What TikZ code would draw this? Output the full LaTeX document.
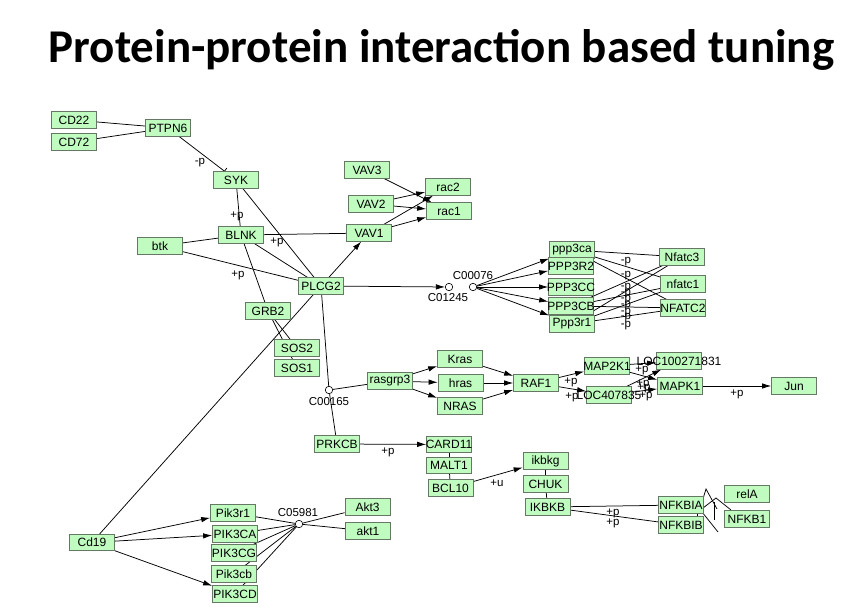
\documentclass[tikz,border=0pt]{standalone}
\usepackage{fontspec}
\setmainfont{Liberation Sans}
\newfontfamily\titlefont{Carlito}
\usetikzlibrary{arrows.meta,calc}
\definecolor{boxfill}{RGB}{192,252,192}
\definecolor{boxline}{RGB}{100,120,100}
\pgfdeclarelayer{edges}
\pgfsetlayers{edges,main}
\newcommand\gname[1]{\makebox[0pt]{#1}}

\begin{document}
\begin{tikzpicture}[x=1pt,y=-1pt,
  gene/.style={draw=boxline, fill=boxfill, line width=0.7pt,
    minimum width=45pt, minimum height=16.5pt, inner sep=0pt,
    font=\fontsize{12}{13}\selectfont},
  cpd/.style={circle, draw, fill=white, line width=0.6pt,
    minimum size=7.5pt, inner sep=0pt},
  lab/.style={font=\fontsize{11.5}{12}\selectfont, inner sep=0pt},
  link/.style={line width=0.75pt},
  act/.style={link, -{Latex[length=9pt,width=5.5pt]}},
  inh/.style={link, -{Bar[width=8pt]}}]

\useasboundingbox (0,0) rectangle (864,607);

% heading
\node[font=\titlefont\bfseries\fontsize{47}{50}\selectfont, anchor=base]
  (title) at (441.5,63) {Protein-protein interaction based tuning};

% B cell receptor proximal signalling
\node[gene] (CD22)   at (74,120)  {\gname{CD22}};
\node[gene] (CD72)   at (74,142)  {\gname{CD72}};
\node[gene] (PTPN6)  at (168,128) {\gname{PTPN6}};
\node[gene] (SYK)    at (236,180) {\gname{SYK}};
\node[gene] (BLNK)   at (241,235) {\gname{BLNK}};
\node[gene] (btk)    at (160,246) {\gname{btk}};
\node[gene] (VAV3)   at (367,170) {\gname{VAV3}};
\node[gene] (VAV2)   at (371,204) {\gname{VAV2}};
\node[gene] (VAV1)   at (369,233) {\gname{VAV1}};
\node[gene] (rac2)   at (448,187) {\gname{rac2}};
\node[gene] (rac1)   at (449,211) {\gname{rac1}};
\node[gene] (PLCG2)  at (321,286) {\gname{PLCG2}};
\node[gene] (GRB2)   at (268,311) {\gname{GRB2}};
\node[gene] (SOS2)   at (297,348) {\gname{SOS2}};
\node[gene] (SOS1)   at (297,368) {\gname{SOS1}};

% calcineurin / NFAT branch
\node[cpd] (C01245) at (449,287) {};
\node[lab] (tC01245) at (448,298) {C01245};
\node[cpd] (C00076) at (473,287) {};
\node[lab] (tC00076) at (473,276) {C00076};
\node[gene] (ppp3ca) at (572,250) {\gname{ppp3ca}};
\node[gene] (PPP3R2) at (571,266) {\gname{PPP3R2}};
\node[gene] (PPP3CC) at (571,287) {\gname{PPP3CC}};
\node[gene] (PPP3CB) at (571,306) {\gname{PPP3CB}};
\node[gene] (Ppp3r1) at (572,324) {\gname{Ppp3r1}};
\node[gene] (Nfatc3) at (682,257) {\gname{Nfatc3}};
\node[gene] (nfatc1) at (683,284) {\gname{nfatc1}};
\node[gene] (NFATC2) at (683,308) {\gname{NFATC2}};

% Ras / MAPK branch
\node[cpd] (C00165) at (329,390) {};
\node[lab] (tC00165) at (329,402) {C00165};
\node[gene] (rasgrp3) at (390,381) {\gname{rasgrp3}};
\node[gene] (Kras)   at (460,359) {\gname{Kras}};
\node[gene] (hras)   at (460.5,383) {\gname{hras}};
\node[gene] (NRAS)   at (460,406) {\gname{NRAS}};
\node[gene] (RAF1)   at (536,383) {\gname{RAF1}};
\node[gene] (MAP2K1) at (607,366) {\gname{MAP2K1}};
\node[gene] (LOCa)   at (679,361) {\gname{LOC100271831}};
\node[gene] (LOCb)   at (609,395) {\gname{LOC407835}};
\node[gene] (MAPK1)  at (680,386) {\gname{MAPK1}};
\node[gene] (Jun)    at (794,386) {\gname{Jun}};

% PKC / NF-kB branch
\node[gene] (PRKCB)  at (337,444) {\gname{PRKCB}};
\node[gene] (CARD11) at (449,444.5) {\gname{CARD11}};
\node[gene] (MALT1)  at (449,465.5) {\gname{MALT1}};
\node[gene] (BCL10)  at (450.5,488) {\gname{BCL10}};
\node[gene] (ikbkg)  at (545.5,461) {\gname{ikbkg}};
\node[gene] (CHUK)   at (545.5,484) {\gname{CHUK}};
\node[gene] (IKBKB)  at (547.5,507) {\gname{IKBKB}};
\node[gene] (NFKBIA) at (681,505) {\gname{NFKBIA}};
\node[gene] (NFKBIB) at (681,525) {\gname{NFKBIB}};
\node[gene] (relA)   at (747,494) {\gname{relA}};
\node[gene] (NFKB1)  at (747,519) {\gname{NFKB1}};

% PI3K / Akt branch
\node[gene] (Cd19)   at (92,542.5) {\gname{Cd19}};
\node[gene] (Pik3r1) at (233,513) {\gname{Pik3r1}};
\node[gene] (PIK3CA) at (235,534) {\gname{PIK3CA}};
\node[gene] (PIK3CG) at (234,553) {\gname{PIK3CG}};
\node[gene] (Pik3cb) at (234,574) {\gname{Pik3cb}};
\node[gene] (PIK3CD) at (235,594) {\gname{PIK3CD}};
\node[cpd] (C05981) at (299,524) {};
\node[lab] (tC05981) at (298,513) {C05981};
\node[gene] (Akt3)   at (367.5,507) {\gname{Akt3}};
\node[gene] (akt1)   at (368,531) {\gname{akt1}};

% bent IkB / NF-kB links
\coordinate (zA1) at (702,502);
\coordinate (zA2) at (706,489);
\coordinate (zA3) at (717,509);
\coordinate (zB1) at (703,508);
\coordinate (zB2) at (716,498);
\coordinate (zB3) at (731,510);
\coordinate (zC1) at (702,512);
\coordinate (zC2) at (718,532);
\coordinate (zD1) at (714,502);
\coordinate (zD2) at (714,520);

% edge labels
\node[lab] (l1)  at (200,163) {-p};
\node[lab] (l2)  at (237,216) {+p};
\node[lab] (l3)  at (277,242) {+p};
\node[lab] (l4)  at (238,275) {+p};
\node[lab] (n1)  at (626,262) {-p};
\node[lab] (n2)  at (626,276) {-p};
\node[lab] (n3)  at (626,288) {-p};
\node[lab] (n4)  at (626,294) {-p};
\node[lab] (n5)  at (626,300) {-p};
\node[lab] (n6)  at (626,306) {-p};
\node[lab] (n7)  at (626,313) {-p};
\node[lab] (n8)  at (626,318) {-p};
\node[lab] (n9)  at (626,326) {-p};
\node[lab] (m1)  at (571,382) {+p};
\node[lab] (m2)  at (572,397) {+p};
\node[lab] (m3)  at (642,370) {+p};
\node[lab] (m4)  at (643,384) {+p};
\node[lab] (m5)  at (644,388) {+p};
\node[lab] (m6)  at (646,396) {+p};
\node[lab] (m7)  at (737,394) {+p};
\node[lab] (k1)  at (388,452) {+p};
\node[lab] (k2)  at (497,483) {+u};
\node[lab] (k3)  at (613,513) {+p};
\node[lab] (k4)  at (613,523) {+p};

\begin{pgfonlayer}{edges}
  \draw[link] (CD22) -- (PTPN6);
  \draw[link] (CD72) -- (PTPN6);
  \draw[inh] (PTPN6) -- (SYK);
  \draw[link] (SYK) -- (BLNK);
  \draw[link] (SYK) -- (PLCG2);
  \draw[link] (btk) -- (BLNK);
  \draw[link] (btk) -- (PLCG2);
  \draw[link] (BLNK) -- (VAV1);
  \draw[link] (BLNK) -- (PLCG2);
  \draw[link] (BLNK) -- (GRB2);
  \draw[link] (GRB2) -- (SOS2);
  \draw[link] (GRB2) -- (SOS1);
  \draw[link] (Cd19) -- (PLCG2);
  \draw[act] (PLCG2) -- (VAV1);
  \draw[act] (VAV3) -- (rac1);
  \draw[act] (VAV2) -- (rac2);
  \draw[act] (VAV2) -- (rac1);
  \draw[act] (VAV1) -- (rac2);
  \draw[act] (VAV1) -- (rac1);

  \draw[act] (PLCG2) -- (C01245);
  \foreach \t in {ppp3ca,PPP3R2,PPP3CC,PPP3CB,Ppp3r1}
    \draw[act] (C00076) -- (\t);
  \foreach \s in {ppp3ca,PPP3CB,Ppp3r1}
    \foreach \t in {Nfatc3,nfatc1,NFATC2}
      \draw[link] (\s) -- (\t);

  \draw[link] (PLCG2) -- (C00165);
  \draw[link] (C00165) -- (PRKCB);
  \draw[link] (C00165) -- (rasgrp3);
  \draw[act] (rasgrp3) -- (Kras);
  \draw[act] (rasgrp3) -- (hras);
  \draw[act] (rasgrp3) -- (NRAS);
  \draw[act] (Kras) -- (RAF1);
  \draw[act] (hras) -- (RAF1);
  \draw[act] (NRAS) -- (RAF1);
  \draw[act] (RAF1) -- (MAP2K1);
  \draw[act] (RAF1) -- (LOCb);
  \draw[act] (MAP2K1) -- (LOCa);
  \draw[act] (MAP2K1) -- (MAPK1);
  \draw[act] (LOCb) -- (LOCa);
  \draw[act] (LOCb) -- (MAPK1);
  \draw[act] (MAPK1) -- (Jun);

  \draw[act] (PRKCB) -- (CARD11);
  \draw[link] (CARD11) -- (MALT1);
  \draw[link] (MALT1) -- (BCL10);
  \draw[act] (BCL10) -- (ikbkg);
  \draw[link] (ikbkg) -- (CHUK);
  \draw[link] (CHUK) -- (IKBKB);
  \draw[link] (IKBKB) -- (NFKBIA);
  \draw[link] (IKBKB) -- (NFKBIB);
  \draw[link] ($(NFKBIA.south)+(16,0)$) -- ($(NFKBIB.north)+(16,0)$);
  \draw[link] (zA1) -- (zA2) -- (zA3);
  \draw[link] (zB1) -- (zB2) -- (zB3);
  \draw[link] (zC1) -- (zC2);
  \draw[link] (zD1) -- (zD2);

  \draw[act] (Cd19) -- (Pik3r1);
  \draw[act] (Cd19) -- (PIK3CA);
  \draw[act] (Cd19) -- (PIK3CD);
  \foreach \s in {Pik3r1,PIK3CA,PIK3CG,Pik3cb,PIK3CD}
    \draw[link] (\s) -- (C05981);
  \draw[link] (C05981) -- (Akt3);
  \draw[link] (C05981) -- (akt1);
\end{pgfonlayer}
\end{tikzpicture}
\end{document}
